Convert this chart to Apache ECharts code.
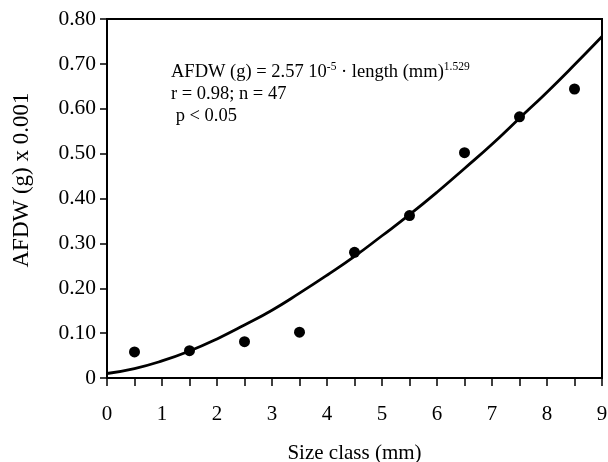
<!DOCTYPE html>
<html>
  <head>
    <meta charset="utf-8" />
    <title>AFDW vs size class</title>
    <script src="https://cdn.jsdelivr.net/npm/echarts@6/dist/echarts.min.js"></script>
    <style>
      * {
        margin: 0;
        padding: 0;
        box-sizing: border-box;
      }
    </style>
  </head>
  <body>
    <div id="main" style="width: 608px; height: 462px"></div>
    <script type="text/javascript">
      var myChart = echarts.init(document.getElementById("main"));

      // observed points (size class midpoints, AFDW g x 0.001)
      const sizeClass = [0.5, 1.5, 2.5, 3.5, 4.5, 5.5, 6.5, 7.5, 8.5];
      const afdw = [0.058, 0.061, 0.081, 0.102, 0.28, 0.362, 0.502, 0.582, 0.644];

      // fitted curve
      const curveX = [0, 0.5, 1, 1.5, 2, 2.5, 3, 3.5, 4, 4.5, 5, 5.5, 6, 6.5, 7, 7.5, 8, 8.5, 9];
      const curveY = [0.010, 0.021, 0.038, 0.06, 0.087, 0.118, 0.151, 0.189, 0.229, 0.271,
        0.317, 0.364, 0.414, 0.467, 0.521, 0.579, 0.637, 0.698, 0.761];

      const font = "Liberation Serif";

      var option = {
        animation: false,
        textStyle: { fontFamily: font },
        grid: {
          left: 107,
          right: 6,
          top: 19,
          bottom: 84,
          outerBoundsMode: "none",
          show: true,
          borderColor: "#000",
          borderWidth: 2,
        },
        xAxis: {
          type: "value",
          min: 0,
          max: 9,
          interval: 1,
          name: "Size class (mm)",
          nameLocation: "middle",
          nameGap: 65,
          nameTextStyle: { fontFamily: font, fontSize: 21, color: "#000" },
          axisLine: { lineStyle: { color: "#000", width: 2 } },
          axisTick: { inside: false, length: 8, lineStyle: { color: "#000", width: 1.5 } },
          minorTick: { show: true, splitNumber: 2, length: 8, lineStyle: { color: "#000", width: 1.5 } },
          axisLabel: { fontFamily: font, fontSize: 21, color: "#000", margin: 26 },
          splitLine: { show: false },
        },
        yAxis: {
          type: "value",
          min: 0,
          max: 0.8,
          interval: 0.1,
          axisLine: { show: true, lineStyle: { color: "#000", width: 2 } },
          axisTick: { show: true, inside: false, length: 7, lineStyle: { color: "#000", width: 1.5 } },
          axisLabel: {
            fontFamily: font,
            fontSize: 21.5,
            color: "#000",
            margin: 11,
            formatter: function (v) {
              return v === 0 ? "0" : v.toFixed(2);
            },
          },
          splitLine: { show: false },
        },
        graphic: [
          // y axis title sits a bit above the plot middle in the original
          {
            type: "text",
            x: 22,
            y: 180,
            rotation: Math.PI / 2,
            style: {
              text: "AFDW (g) x 0.001",
              fontFamily: font,
              fontSize: 23,
              fill: "#000",
              align: "center",
              verticalAlign: "middle",
            },
          },
          {
            type: "text",
            left: 171,
            top: 61,
            style: {
              text: "AFDW (g) = 2.57 10{sup|-5} · length (mm){sup|1.529}\nr = 0.98; n = 47\n p < 0.05",
              fontFamily: font,
              fontSize: 18.5,
              lineHeight: 22,
              fill: "#000",
              rich: {
                sup: { fontFamily: font, fontSize: 11.5, verticalAlign: "top", lineHeight: 22, fill: "#000" },
              },
            },
          },
        ],
        series: [
          {
            type: "line",
            data: curveX.map((x, i) => [x, curveY[i]]),
            smooth: true,
            showSymbol: false,
            lineStyle: { color: "#000", width: 2.8 },
            z: 2,
          },
          {
            type: "scatter",
            data: sizeClass.map((x, i) => [x, afdw[i]]),
            symbolSize: 11,
            itemStyle: { color: "#000", opacity: 1 },
            z: 3,
          },
        ],
      };

      myChart.setOption(option);
    </script>
  </body>
</html>
